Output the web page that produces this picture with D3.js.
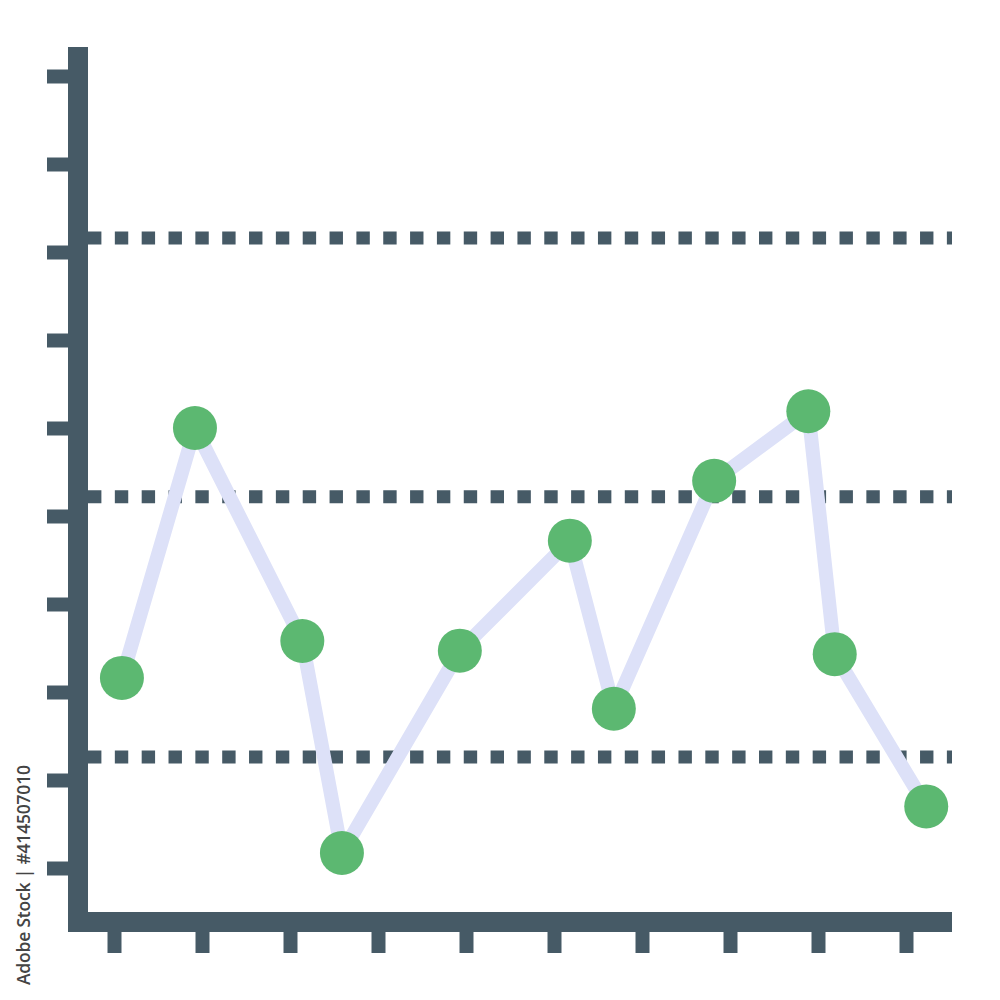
<!DOCTYPE html>
<meta charset="utf-8">
<style>
body { margin: 0; background: #fff; }
.tick line { stroke: #465a66; stroke-width: 14px; }
.bar { stroke: #465a66; stroke-width: 20px; }
.guide { stroke: #465a66; stroke-width: 13px; stroke-dasharray: 13.4 13.44; }
.line { fill: none; stroke: #dde1f8; stroke-width: 14px; stroke-linejoin: round; }
.dot { fill: #5cb871; }
</style>
<script src="https://d3js.org/d3.v7.min.js"></script>
<body>
<div id="chart"></div>
</body>
<script>

// data (x in tick units, y in tick units)
var xTicks = d3.range(0, 10);
var yTicks = d3.range(0, 10);
var xs = [0.09, 0.92, 2.14, 2.59, 3.93, 5.18, 5.68, 6.82, 7.89, 8.19, 9.23];
var ys = [2.16, 5.0, 2.58, 0.17, 2.47, 3.72, 1.81, 4.40, 5.19, 2.43, 0.70];
var guides = [7.16, 4.22, 1.26];

var W = 1000, H = 1000;
var axisX = 78, axisY = 922, axisTop = 47, axisRight = 952;

var svg = d3.select("#chart").append("svg")
    .attr("width", W)
    .attr("height", H);

var x = d3.scaleLinear().domain([0, 9]).range([114, 906]);
var y = d3.scaleLinear().domain([0, 9]).range([868, 76]);

// dotted reference lines
svg.selectAll(".guide")
    .data(guides)
  .enter().append("line")
    .attr("class", "guide")
    .attr("x1", axisX + 10)
    .attr("x2", axisRight)
    .attr("y1", function(d) { return y(d); })
    .attr("y2", function(d) { return y(d); });

// y ticks
svg.append("g")
    .attr("transform", "translate(" + axisX + ",0)")
    .call(d3.axisLeft(y).tickValues(yTicks).tickSize(31).tickFormat(""))
    .call(function(g) { g.select(".domain").remove(); });

// x ticks
svg.append("g")
    .attr("transform", "translate(0," + axisY + ")")
    .call(d3.axisBottom(x).tickValues(xTicks).tickSize(31).tickFormat(""))
    .call(function(g) { g.select(".domain").remove(); });

// axis bars
svg.append("line").attr("class", "bar")
    .attr("x1", axisX).attr("x2", axisX)
    .attr("y1", axisTop).attr("y2", axisY + 10);
svg.append("line").attr("class", "bar")
    .attr("x1", axisX - 10).attr("x2", axisRight)
    .attr("y1", axisY).attr("y2", axisY);

var pts = xs.map(function(v, i) { return [v, ys[i]]; });

svg.append("path")
    .datum(pts)
    .attr("class", "line")
    .attr("d", d3.line()
        .x(function(d) { return x(d[0]); })
        .y(function(d) { return y(d[1]); }));

svg.selectAll(".dot")
    .data(pts)
  .enter().append("circle")
    .attr("class", "dot")
    .attr("r", 22)
    .attr("cx", function(d) { return x(d[0]); })
    .attr("cy", function(d) { return y(d[1]); });

svg.append("text")
    .attr("transform", "translate(30,985) rotate(-90)")
    .style("font-family", "Open Sans")
    .style("font-size", "17.5px")
    .style("font-weight", "600")
    .style("fill", "#444")
    .attr("textLength", 220)
    .text("Adobe Stock | #414507010");

</script>
